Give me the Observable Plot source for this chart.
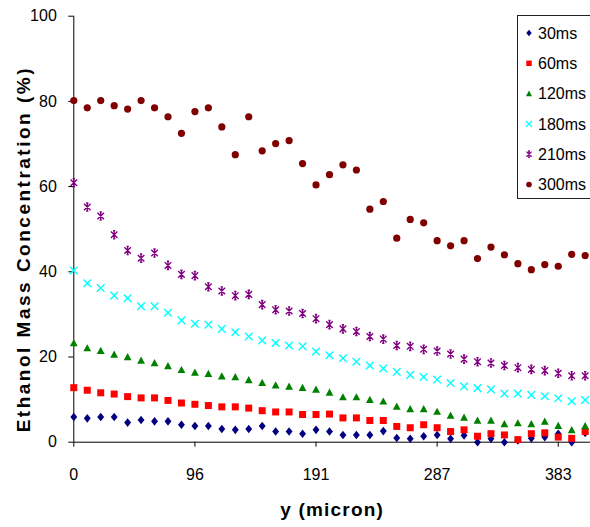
<!DOCTYPE html>
<html>
<head>
<meta charset="utf-8">
<script src="https://cdn.jsdelivr.net/npm/d3@7"></script>
<script src="https://cdn.jsdelivr.net/npm/@observablehq/plot@0.6"></script>
<style>
  body { margin: 0; background: #fff; }
  #chart { position: relative; width: 590px; height: 527px; overflow: hidden; }
  #chart svg { display: block; }
  #legend { position: absolute; left: 0; top: 0; pointer-events: none; }
</style>
</head>
<body>
<div id="chart"></div>
<script>
// Sampling positions across the channel (micron)
const positions = [
  0, 10.64, 21.28, 31.92, 42.56, 53.19, 63.83, 74.47, 85.11, 95.75,
  106.39, 117.03, 127.67, 138.31, 148.94, 159.58, 170.22, 180.86, 191.5, 202.14,
  212.78, 223.42, 234.06, 244.69, 255.33, 265.97, 276.61, 287.25, 297.89, 308.53,
  319.17, 329.81, 340.44, 351.08, 361.72, 372.36, 383.0, 393.64, 404.28
];

const xTickValues = [0, 95.75, 191.5, 287.25, 383];
const xTickLabels = ["0", "96", "191", "287", "383"];
const yTickValues = [0, 20, 40, 60, 80, 100];

const seriesNames = ["30ms", "60ms", "120ms", "180ms", "210ms", "300ms"];

// Ethanol mass concentration (%) at each position, one list per time
const conc30 = [
  5.9, 5.6, 5.9, 5.9, 4.6, 5.2, 4.9, 4.9, 4.1, 3.8,
  3.8, 3.1, 2.9, 3.1, 3.8, 2.5, 2.5, 2.0, 2.9, 2.5,
  1.7, 1.7, 1.7, 2.6, 1.0, 0.8, 1.4, 1.7, 0.8, 1.6,
  0.0, 0.8, 0.0, 0.4, 0.9, 1.2, 2.0, 0.0, 2.2
];
const conc60 = [
  12.8, 12.2, 11.6, 11.3, 10.7, 10.4, 10.4, 9.8, 9.2, 8.9,
  8.6, 8.3, 8.3, 8.0, 7.4, 7.1, 7.1, 6.5, 6.5, 6.6,
  5.7, 5.7, 5.1, 5.1, 3.7, 3.4, 4.1, 3.4, 2.5, 2.9,
  1.4, 2.0, 1.7, 0.6, 2.0, 2.2, 1.2, 0.9, 2.5
];
const conc120 = [
  23.3, 22.1, 21.5, 20.6, 20.0, 19.2, 18.6, 17.9, 17.0, 16.4,
  16.1, 15.5, 15.3, 14.6, 14.0, 13.4, 13.1, 12.8, 12.4, 11.7,
  10.6, 10.6, 10.0, 9.6, 8.4, 7.8, 7.8, 7.2, 6.3, 5.8,
  5.1, 5.1, 4.3, 4.5, 4.3, 4.9, 3.9, 2.9, 3.8
];
const conc180 = [
  40.3, 37.3, 36.2, 34.4, 33.8, 31.9, 31.9, 30.4, 28.6, 27.8,
  27.6, 26.6, 25.8, 24.8, 23.9, 23.3, 22.7, 22.5, 21.3, 20.4,
  19.7, 18.9, 18.0, 17.3, 16.5, 15.8, 15.3, 14.7, 13.9, 13.1,
  12.7, 12.4, 11.4, 11.4, 11.1, 10.8, 10.3, 9.6, 9.9
];
const conc210 = [
  60.9, 55.2, 53.1, 48.7, 45.0, 43.2, 44.4, 41.5, 39.4, 39.1,
  36.5, 35.5, 34.4, 34.7, 32.3, 31.1, 30.8, 30.2, 29.0, 27.6,
  26.6, 26.0, 24.8, 24.2, 22.7, 22.5, 21.8, 21.4, 20.7, 19.5,
  18.9, 18.6, 18.0, 17.5, 17.1, 16.8, 16.2, 15.6, 15.6
];
const conc300 = [
  80.2, 78.5, 80.2, 79.0, 78.2, 80.2, 78.5, 76.4, 72.5, 77.6,
  78.5, 74.0, 67.5, 76.4, 68.4, 70.1, 70.8, 65.4, 60.4, 62.8,
  65.1, 63.9, 54.7, 56.5, 47.9, 52.3, 51.5, 47.3, 46.1, 47.3,
  43.1, 45.8, 44.0, 41.9, 40.5, 41.7, 41.3, 44.1, 43.8
];

const seriesValues = [conc30, conc60, conc120, conc180, conc210, conc300];
const seriesColors = ["#000080", "#ff0000", "#008000", "#00ffff", "#800080", "#800000"];

// Marker shapes; h is the half-extent derived from the dot radius
const shape = (fn) => ({ draw(ctx, size) { fn(ctx, Math.sqrt(size / Math.PI)); } });
const diamond = shape((c, h) => { c.moveTo(0, -h); c.lineTo(h * 0.8, 0); c.lineTo(0, h); c.lineTo(-h * 0.8, 0); c.closePath(); });
const square = shape((c, h) => { c.moveTo(-h, -h); c.lineTo(h, -h); c.lineTo(h, h); c.lineTo(-h, h); c.closePath(); });
const triangle = shape((c, h) => { c.moveTo(0, -h); c.lineTo(h, h * 0.85); c.lineTo(-h, h * 0.85); c.closePath(); });
const cross = shape((c, h) => { c.moveTo(-h, -h); c.lineTo(h, h); c.moveTo(-h, h); c.lineTo(h, -h); });
const star = shape((c, h) => {
  const d = h * 0.8;
  c.moveTo(-d, -d); c.lineTo(d, d); c.moveTo(-d, d); c.lineTo(d, -d);
  c.moveTo(0, -h); c.lineTo(0, h);
  c.moveTo(-d * 0.35, -h); c.lineTo(d * 0.35, -h);
  c.moveTo(-d * 0.35, h); c.lineTo(d * 0.35, h);
});
const circle = shape((c, h) => { c.moveTo(h, 0); c.arc(0, 0, h, 0, 2 * Math.PI); });

const markers = [
  { symbol: diamond, r: 4.3, filled: true },
  { symbol: square, r: 3.5, filled: true },
  { symbol: triangle, r: 3.9, filled: true },
  { symbol: cross, r: 3.8, filled: false },
  { symbol: star, r: 4.1, filled: false },
  { symbol: circle, r: 3.6, filled: true }
];

const FONT = "'Liberation Sans', Arial, Helvetica, sans-serif";

const dotMarks = seriesValues.map((vals, k) => {
  const m = markers[k];
  const rows = positions.map((p, i) => ({ pos: p, value: vals[i] }));
  return Plot.dot(rows, {
    x: "pos",
    y: "value",
    symbol: m.symbol,
    r: m.r,
    fill: m.filled ? seriesColors[k] : "none",
    stroke: m.filled ? "none" : seriesColors[k],
    strokeWidth: m.filled ? 0 : 1.4
  });
});

const chart = Plot.plot({
  width: 590,
  height: 527,
  marginLeft: 73.3,
  marginRight: 0,
  marginTop: 15.7,
  marginBottom: 85.3,
  style: { fontFamily: FONT, fontSize: "16px", color: "#000", background: "#fff", overflow: "visible" },
  x: { domain: [0, 408.5] },
  y: { domain: [0, 100] },
  marks: [
    Plot.axisY({ ticks: yTickValues, tickSize: 5, tickPadding: 12, label: null, fontSize: 16 }),
    Plot.axisX({
      ticks: xTickValues,
      tickFormat: (d) => xTickLabels[xTickValues.indexOf(d)],
      tickSize: 5, tickPadding: 21, label: null, fontSize: 16
    }),
    Plot.ruleX([0], { stroke: "#000" }),
    Plot.ruleY([0], { stroke: "#000" }),
    ...dotMarks,
    Plot.text(["Ethanol Mass Concentration (%)"], {
      frameAnchor: "left", rotate: -90, dx: -50, dy: 20,
      textAnchor: "middle", lineAnchor: "middle",
      fontSize: 19, fontWeight: "bold", fill: "#000"
    }),
    Plot.text(["y (micron)"], {
      frameAnchor: "bottom", dy: 68,
      textAnchor: "middle", lineAnchor: "middle",
      fontSize: 19, fontWeight: "bold", fill: "#000"
    })
  ]
});

// Spread the axis titles a little, as in the original layout
chart.querySelectorAll("text").forEach((t) => {
  if (t.textContent === "Ethanol Mass Concentration (%)") t.setAttribute("letter-spacing", "2.5");
  if (t.textContent === "y (micron)") t.setAttribute("letter-spacing", "1.2");
});

const container = document.getElementById("chart");
container.appendChild(chart);

// Legend box in the upper right of the plot area
const legend = d3.select(container).append("svg")
  .attr("id", "legend")
  .attr("width", 590)
  .attr("height", 527);

legend.append("rect")
  .attr("x", 517.5).attr("y", 15.5)
  .attr("width", 80).attr("height", 183)
  .attr("fill", "#fff").attr("stroke", "#222").attr("stroke-width", 1);

const rowY = (i) => 33 + i * 30.3;
seriesNames.forEach((name, k) => {
  const m = markers[k];
  legend.append("path")
    .attr("transform", `translate(529,${rowY(k)})`)
    .attr("d", d3.symbol(m.symbol, Math.PI * (m.r * 0.78) ** 2)())
    .attr("fill", m.filled ? seriesColors[k] : "none")
    .attr("stroke", m.filled ? "none" : seriesColors[k])
    .attr("stroke-width", 1.3);
  legend.append("text")
    .attr("x", 538).attr("y", rowY(k) + 5.8)
    .attr("font-family", FONT).attr("font-size", 16)
    .attr("fill", "#000")
    .text(name);
});
</script>
</body>
</html>
